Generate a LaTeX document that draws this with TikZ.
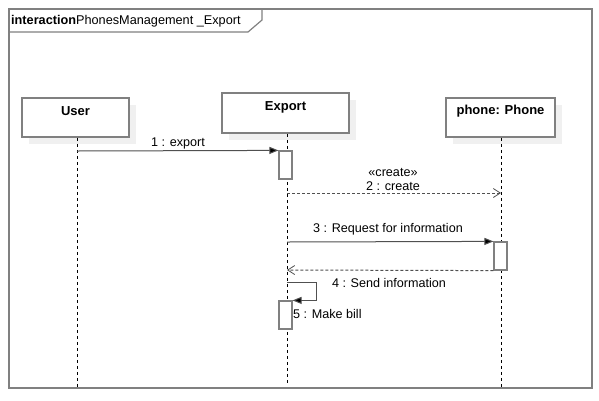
\documentclass[tikz,border=0pt]{standalone}
\usepackage{fontspec}
\setmainfont{Liberation Sans}
\usetikzlibrary{arrows.meta,shadows}

\definecolor{umlgray}{HTML}{808080}
\definecolor{msggray}{HTML}{505050}
\definecolor{shadegray}{HTML}{F0F0F0}

\tikzset{
  lifebox/.style={draw=umlgray,line width=1.5pt,fill=white,
    drop shadow={shadow xshift=7pt,shadow yshift=-7pt,fill=shadegray,opacity=1}},
  lifeline/.style={black,line width=0.8pt,dash pattern=on 3pt off 3pt},
  actbar/.style={draw=umlgray,line width=1.2pt,fill=white,minimum width=13pt,
    minimum height=28pt,inner sep=0pt},
  callmsg/.style={msggray,line width=1pt,-{Triangle[length=9pt,width=7pt,fill=black]}},
  replymsg/.style={msggray,line width=1pt,dash pattern=on 3pt off 2pt,
    -{Straight Barb[length=7pt,width=9pt,line width=0.8pt]}},
  msglabel/.style={font=\fontsize{12.6}{14}\selectfont,inner sep=0pt},
  boxtitle/.style={font=\fontsize{13}{15}\selectfont\bfseries,inner sep=0pt}
}

\begin{document}
\begin{tikzpicture}[x=1pt,y=-1pt]
\useasboundingbox (0,0) rectangle (599,400);

\draw[umlgray,line width=1.5pt] (9,9) rectangle (592,388);
\draw[umlgray,line width=1.2pt] (9,32) -- (248,32) -- (262,20) -- (262,9);
\node[anchor=west,inner sep=0pt,font=\fontsize{12.7}{14}\selectfont] (title) at (11,21)
  {\textbf{interaction}PhonesManagement \_Export};

\node[lifebox,minimum width=107pt,minimum height=39pt] (user) at (75.5,117.5) {};
\node[lifebox,minimum width=127pt,minimum height=40pt] (export) at (285.5,113) {};
\node[lifebox,minimum width=109pt,minimum height=39pt] (phone) at (500.5,117.5) {};
\node[boxtitle] at ([yshift=-14pt]user.north) {User};
\node[boxtitle] at ([yshift=-15pt]export.north) {Export};
\node[boxtitle] at ([yshift=-14pt]phone.north) {phone: Phone};

\coordinate (userend) at (77,387);
\coordinate (exportend) at (287,383);
\coordinate (phoneend) at (501,387);
\draw[lifeline] (user.south -| userend) -- (userend);
\draw[lifeline] (export.south -| exportend) -- (exportend);
\draw[lifeline] (phone.south -| phoneend) -- (phoneend);

\node[actbar] (act1) at (285.5,165) {};
\node[actbar] (act3) at (500.5,256) {};
\node[actbar] (act5) at (285.5,315) {};

\coordinate (u1) at (77,151);
\coordinate (e2) at (287,193);
\coordinate (p2) at (501,193);
\coordinate (e3) at (287,242);
\coordinate (e4) at (287,270);
\coordinate (e5) at (287,282);
\coordinate (loop5) at (316,282);

\draw[callmsg] (u1) -- (act1.north west);
\node[msglabel] at (178,143) {1 : export};

\draw[replymsg] (e2) -- (p2);
\node[msglabel] at (393,172) {«create»};
\node[msglabel] at (393,186) {2 : create};

\draw[callmsg] (e3) -- (act3.north west);
\node[msglabel] at (388,229) {3 : Request for information};

\draw[replymsg] (act3.south west) -- (e4);
\node[msglabel] at (389,283) {4 : Send information};

\draw[callmsg] (e5) -- (loop5) |- (act5.north east);
\node[msglabel,anchor=west] at (293,314) {5 : Make bill};
\end{tikzpicture}
\end{document}
